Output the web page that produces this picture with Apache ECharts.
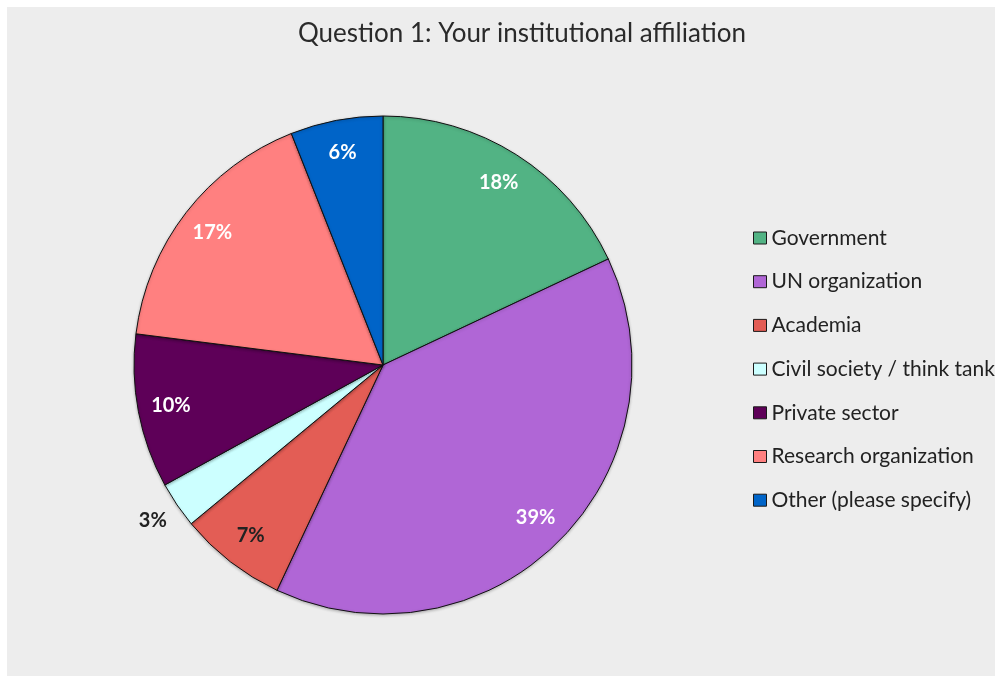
<!DOCTYPE html>
<html>
<head>
<meta charset="utf-8">
<title>Question 1: Your institutional affiliation</title>
<script src="https://cdn.jsdelivr.net/npm/echarts@6/dist/echarts.min.js"></script>
<style>
  html, body { margin: 0; padding: 0; background: #ffffff; }
  #chart { position: absolute; left: 7px; top: 7px; width: 988px; height: 669px; }
</style>
</head>
<body>
<div id="chart"></div>
<script>
// Survey answers, share of respondents (%)
const categories = [
  'Government',
  'UN organization',
  'Academia',
  'Civil society / think tank',
  'Private sector',
  'Research organization',
  'Other (please specify)'
];
const shares = [18, 39, 7, 3, 10, 17, 6];
const sliceColors = ['#52b384', '#b066d6', '#e35d55', '#ccffff', '#5e0058', '#ff8080', '#0064c8'];
const labelColors = ['#ffffff', '#ffffff', '#222222', '#222222', '#ffffff', '#ffffff', '#ffffff'];
// the small civil-society slice carries its label outside the pie
const outsideLabel = [false, false, false, true, false, false, false];

const FONT = 'Lato, "Open Sans", sans-serif';
const CENTER = [376, 358];
const R = 249;

const chart = echarts.init(document.getElementById('chart'), null, { renderer: 'canvas' });

const pieData = categories.map((name, i) => ({
  name,
  value: shares[i],
  itemStyle: { color: sliceColors[i] }
}));

// transparent ring over the outer part of the pie, used only to place the percentage labels
const labelData = categories.map((name, i) => ({
  name,
  value: shares[i],
  itemStyle: { color: 'rgba(0,0,0,0)', borderWidth: 0 },
  label: outsideLabel[i]
    ? { position: 'outside', color: labelColors[i] }
    : { position: 'inside', color: labelColors[i] },
  labelLine: { show: false, length: 16, length2: 0 }
}));

chart.setOption({
  backgroundColor: '#ededed',
  animation: false,
  title: {
    text: 'Question 1: Your institutional affiliation',
    left: 286,
    top: 9,
    padding: 5,
    textStyle: { fontFamily: FONT, fontSize: 26, fontWeight: 'normal', color: '#2a2a2a' }
  },
  legend: {
    orient: 'vertical',
    left: 741,
    top: 214,
    itemWidth: 13,
    itemHeight: 12,
    itemGap: 19.7,
    icon: 'rect',
    data: categories,
    itemStyle: { borderColor: '#1a1a1a', borderWidth: 1 },
    textStyle: { fontFamily: FONT, fontSize: 21, color: '#222222', lineHeight: 24 }
  },
  series: [
    {
      type: 'pie',
      name: 'affiliation',
      center: CENTER,
      radius: [0, R],
      startAngle: 90,
      clockwise: true,
      avoidLabelOverlap: false,
      silent: true,
      label: { show: false },
      labelLine: { show: false },
      itemStyle: {
        borderColor: '#111111',
        borderWidth: 1,
        shadowColor: 'rgba(0,0,0,0.25)',
        shadowBlur: 3,
        shadowOffsetY: 1
      },
      data: pieData
    },
    {
      type: 'pie',
      name: 'labels',
      center: CENTER,
      radius: [R * 0.71, R],
      startAngle: 90,
      clockwise: true,
      avoidLabelOverlap: false,
      silent: true,
      label: {
        show: true,
        formatter: '{c}%',
        fontFamily: FONT,
        fontSize: 20,
        fontWeight: 'bold'
      },
      // nudge the outside label a little down and towards the pie
      labelLayout: (params) => (outsideLabel[params.dataIndex] ? { dx: 8, dy: 7 } : {}),
      data: labelData
    }
  ]
});
</script>
</body>
</html>
